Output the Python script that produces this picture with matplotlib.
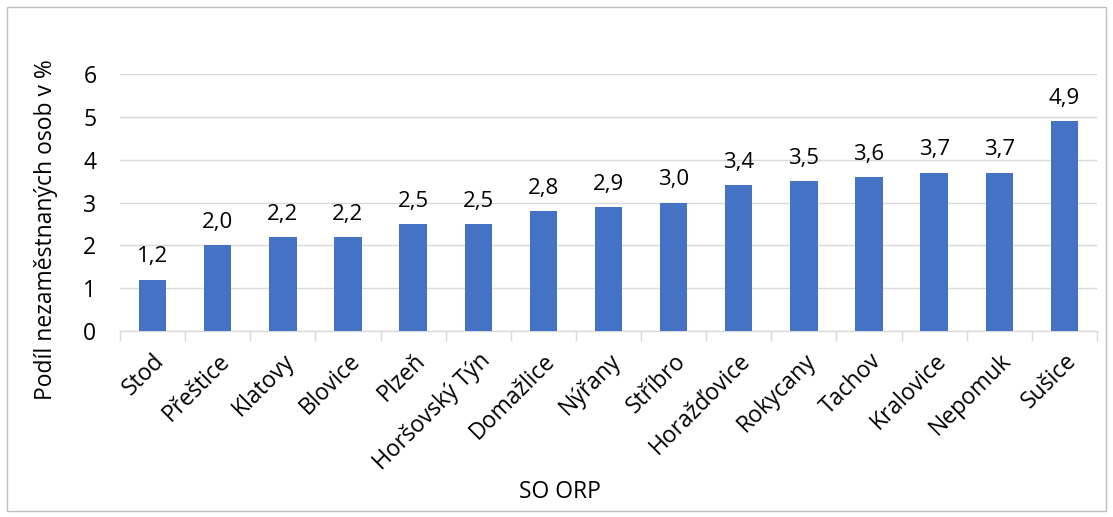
import matplotlib
matplotlib.use("Agg")
import matplotlib.pyplot as plt
from matplotlib.patches import Rectangle

categories = ["Stod", "Přeštice", "Klatovy", "Blovice", "Plzeň", "Horšovský Týn",
              "Domažlice", "Nýřany", "Stříbro", "Horažďovice", "Rokycany", "Tachov",
              "Kralovice", "Nepomuk", "Sušice"]
values = [1.2, 2.0, 2.2, 2.2, 2.5, 2.5, 2.8, 2.9, 3.0, 3.4, 3.5, 3.6, 3.7, 3.7, 4.9]
yticks = [0, 1, 2, 3, 4, 5, 6]

plt.rcParams['font.family'] = ['Open Sans', 'DejaVu Sans']
FS = 16.5

fig = plt.figure(figsize=(11.13, 5.17), dpi=100)
ax = fig.add_axes([120/1113, 1-331/517, (1097-120)/1113, (331-74)/517])

x = list(range(len(categories)))
bars = ax.bar(x, values, width=0.42, color="#4472C4", zorder=3)
for xi, v in zip(x, values):
    ax.text(xi, v + 0.40, f"{v:.1f}".replace(".", ","), ha="center", va="baseline",
            fontsize=16, color="#000000")

ax.set_xlim(-0.5, len(categories) - 0.5)
ax.set_ylim(0, 6)
ax.set_yticks(yticks)
ax.set_yticklabels([str(t) for t in yticks], fontsize=FS)
ax.yaxis.grid(True, color="#d9d9d9", linewidth=1, zorder=0)
ax.tick_params(axis="y", length=0, pad=17)

ax.set_xticks(x)
ax.set_xticklabels(categories, rotation=45, ha="right", rotation_mode="anchor", fontsize=FS)
ax.set_xticks([i - 0.5 for i in range(len(categories) + 1)], minor=True)
ax.tick_params(axis="x", which="major", length=0, pad=13)
ax.tick_params(axis="x", which="minor", length=7, color="#d9d9d9", width=1)

for s in ["top", "right", "left"]:
    ax.spines[s].set_visible(False)
ax.spines["bottom"].set_color("#d9d9d9")
ax.spines["bottom"].set_linewidth(1)

fig.text(46/1113, 1-230/517, "Podíl nezaměstnaných osob v %", rotation=90,
         ha="center", va="center", fontsize=FS)
fig.text(560/1113, 1-492/517, "SO ORP", ha="center", va="center", fontsize=FS)

border = Rectangle((7/1113, 6/517), (1106-7)/1113, (510-6)/517, transform=fig.transFigure,
                   fill=False, edgecolor="#bfbfbf", linewidth=1)
fig.patches.append(border)

fig.savefig("out.png", dpi=100)
